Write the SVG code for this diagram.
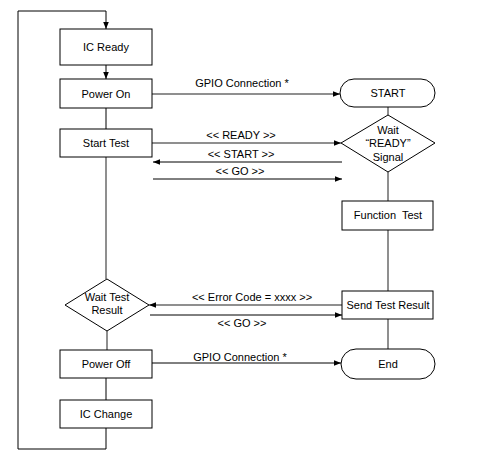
<svg xmlns="http://www.w3.org/2000/svg" width="487" height="461" viewBox="0 0 487 461">
<style>
text{font-family:"Liberation Sans",Arial,sans-serif;font-size:11px;fill:#000;text-anchor:middle}
.box{fill:#fff;stroke:#000;stroke-width:1}
.g{fill:none;stroke:#6a6a6a;stroke-width:1.5}
.k{fill:none;stroke:#000;stroke-width:1}
</style>
<defs>
<marker id="ah" viewBox="0 0 10 10" refX="10" refY="5" markerWidth="10" markerHeight="7" markerUnits="userSpaceOnUse" orient="auto">
<path d="M0,1 L10,5 L0,9 Z" fill="#000"/>
</marker>
</defs>
<rect width="487" height="461" fill="#fff"/>
<g id="connectors">
<polyline class="k" points="106,428 106,449 18,449 18,11 106,11 106,29" marker-end="url(#ah)"/>
<line class="k" x1="106" y1="65" x2="106" y2="79" marker-end="url(#ah)"/>
<line class="k" x1="106" y1="108" x2="106" y2="129"/>
<line class="g" x1="106" y1="157" x2="106" y2="279"/>
<line class="g" x1="107" y1="331" x2="107" y2="350"/>
<line class="k" x1="106" y1="378" x2="106" y2="400"/>
<line class="g" x1="388" y1="107" x2="388" y2="115"/>
<line class="g" x1="388" y1="172" x2="388" y2="201"/>
<line class="g" x1="388" y1="230" x2="388" y2="291"/>
<line class="g" x1="388" y1="319" x2="388" y2="349"/>
<line class="g" x1="152" y1="94" x2="340" y2="94" marker-end="url(#ah)"/>
<text x="242" y="87">GPIO Connection *</text>
<line class="g" x1="152" y1="143" x2="341" y2="143" marker-end="url(#ah)"/>
<text x="241" y="139">&lt;&lt; READY &gt;&gt;</text>
<line class="k" x1="342" y1="162" x2="153" y2="162" marker-end="url(#ah)"/>
<text x="241" y="158">&lt;&lt; START &gt;&gt;</text>
<line class="k" x1="153" y1="179" x2="342" y2="179" marker-end="url(#ah)"/>
<text x="240" y="175">&lt;&lt; GO &gt;&gt;</text>
<line class="g" x1="342" y1="305" x2="149" y2="305" marker-end="url(#ah)"/>
<text x="252" y="301">&lt;&lt; Error Code = xxxx &gt;&gt;</text>
<line class="k" x1="150" y1="315" x2="342" y2="315" marker-end="url(#ah)"/>
<text x="242" y="327">&lt;&lt; GO &gt;&gt;</text>
<line class="k" x1="152" y1="363" x2="341" y2="363" marker-end="url(#ah)"/>
<text x="240" y="361">GPIO Connection *</text>
</g>
<g id="ic-ready"><rect class="box" x="60" y="29" width="92" height="36"/><text x="106" y="51">IC Ready</text></g>
<g id="power-on"><rect class="box" x="60" y="79" width="92" height="29"/><text x="106" y="98">Power On</text></g>
<g id="start-test"><rect class="box" x="60" y="129" width="92" height="28"/><text x="106" y="147">Start Test</text></g>
<g id="wait-test-result"><polygon class="box" points="107,279 149,305 107,331 65,305"/><text x="107" y="301">Wait Test</text><text x="107" y="314">Result</text></g>
<g id="power-off"><rect class="box" x="60" y="350" width="92" height="28"/><text x="106" y="368">Power Off</text></g>
<g id="ic-change"><rect class="box" x="60" y="400" width="92" height="28"/><text x="106" y="418">IC Change</text></g>
<g id="start"><rect class="box" x="340" y="79" width="95" height="28" rx="14"/><text x="388" y="97">START</text></g>
<g id="wait-ready"><polygon class="box" points="388,115 435,143 388,172 341,143"/><text x="388" y="134">Wait</text><text x="388" y="147">“READY”</text><text x="388" y="161">Signal</text></g>
<g id="function-test"><rect class="box" x="342" y="201" width="91" height="29"/><text x="388" y="219">Function&#160; Test</text></g>
<g id="send-test-result"><rect class="box" x="342" y="291" width="91" height="28"/><text x="388" y="309">Send Test Result</text></g>
<g id="end"><rect class="box" x="341" y="349" width="94" height="30" rx="15"/><text x="388" y="368">End</text></g>
</svg>
